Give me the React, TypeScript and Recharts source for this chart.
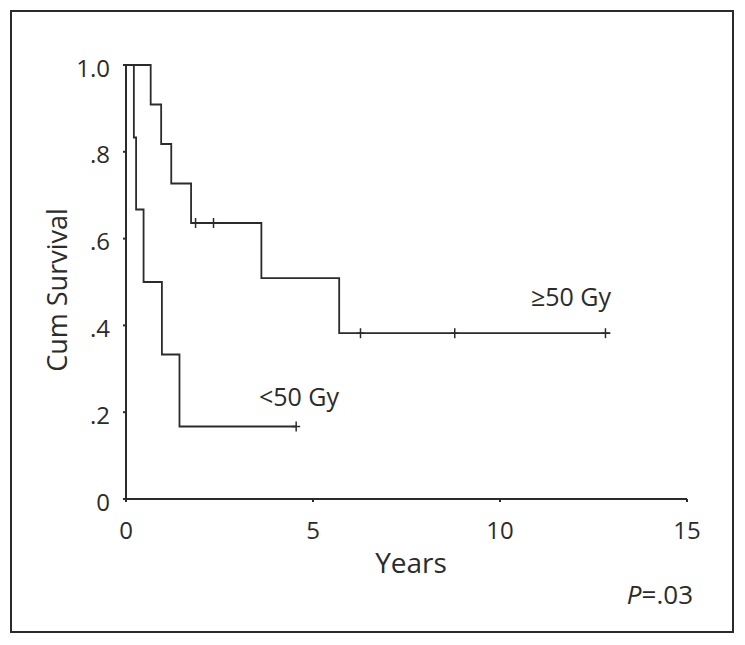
import React from "react";
import {
  ComposedChart,
  Line,
  Scatter,
  XAxis,
  YAxis,
} from "recharts";

// Kaplan-Meier step curves (time in years, cumulative survival)
const lowDoseCurve = [
  { t: 0, s: 1 },
  { t: 0.21, s: 0.833 },
  { t: 0.27, s: 0.667 },
  { t: 0.47, s: 0.5 },
  { t: 0.96, s: 0.333 },
  { t: 1.43, s: 0.167 },
  { t: 4.55, s: 0.167 },
];

const highDoseCurve = [
  { t: 0, s: 1 },
  { t: 0.66, s: 0.909 },
  { t: 0.94, s: 0.818 },
  { t: 1.21, s: 0.727 },
  { t: 1.74, s: 0.636 },
  { t: 3.62, s: 0.509 },
  { t: 5.7, s: 0.382 },
  { t: 12.95, s: 0.382 },
];

// censored observations
const lowDoseCensored = [{ t: 4.55, s: 0.167 }];
const highDoseCensored = [
  { t: 1.86, s: 0.636 },
  { t: 2.34, s: 0.636 },
  { t: 6.27, s: 0.382 },
  { t: 8.79, s: 0.382 },
  { t: 12.82, s: 0.382 },
];

const xTicks = [0, 5, 10, 15];
const yTicks = [0, 0.2, 0.4, 0.6, 0.8, 1];

const ink = "#2b2b2b";
const font = "'Open Sans', sans-serif";

const fmtY = (v: number) => (v === 1 ? "1.0" : v === 0 ? "0" : String(v).replace(/^0/, ""));

const CensorMark = (props: any) => {
  const { cx, cy } = props;
  if (cx == null || cy == null) return null;
  return (
    <g stroke={ink} strokeWidth={1.5}>
      <line x1={cx} y1={cy - 5} x2={cx} y2={cy + 5} />
      <line x1={cx - 4} y1={cy} x2={cx + 4} y2={cy} />
    </g>
  );
};

export default function App() {
  return (
    <div style={{ position: "absolute", left: 0, top: 0, width: 745, height: 645, background: "#fff" }}>
      <div
        style={{
          position: "absolute",
          left: 10,
          top: 10,
          width: 724,
          height: 623,
          boxSizing: "border-box",
          border: `2px solid ${ink}`,
        }}
      />
      <div style={{ position: "absolute", left: 0, top: 0 }}>
        <ComposedChart
          width={745}
          height={645}
          margin={{ top: 65, right: 58, left: 66, bottom: 116 }}
        >
          <XAxis
            type="number"
            dataKey="t"
            domain={[0, 15]}
            ticks={xTicks}
            allowDataOverflow
            stroke={ink}
            strokeWidth={2}
            tickSize={3}
            tickMargin={20}
            height={30}
            tick={{ fontSize: 24, fill: ink, fontFamily: font }}
          />
          <YAxis
            type="number"
            dataKey="s"
            domain={[0, 1]}
            ticks={yTicks}
            tickFormatter={fmtY}
            stroke={ink}
            strokeWidth={2}
            tickSize={3}
            tickMargin={13}
            width={60}
            tick={{ fontSize: 24, fill: ink, fontFamily: font, dy: 3 }}
          />
          <Line
            data={lowDoseCurve}
            dataKey="s"
            type="stepAfter"
            stroke={ink}
            strokeWidth={1.8}
            dot={false}
            isAnimationActive={false}
          />
          <Line
            data={highDoseCurve}
            dataKey="s"
            type="stepAfter"
            stroke={ink}
            strokeWidth={1.8}
            dot={false}
            isAnimationActive={false}
          />
          <Scatter data={lowDoseCensored} shape={CensorMark} isAnimationActive={false} />
          <Scatter data={highDoseCensored} shape={CensorMark} isAnimationActive={false} />
        </ComposedChart>
      </div>
      <svg
        width={745}
        height={645}
        style={{ position: "absolute", left: 0, top: 0, pointerEvents: "none" }}
        fontFamily={font}
        fill={ink}
      >
        <text x={66.5} y={290} fontSize={27} textAnchor="middle" transform="rotate(-90 66.5 290)">
          Cum Survival
        </text>
        <text x={411} y={573} fontSize={28} textAnchor="middle">
          Years
        </text>
        <text x={571} y={306} fontSize={25} textAnchor="middle">
          ≥50 Gy
        </text>
        <text x={299} y={405.5} fontSize={25} textAnchor="middle">
          &lt;50 Gy
        </text>
        <text x={693} y={604} fontSize={26} textAnchor="end">
          <tspan fontStyle="italic">P</tspan>=.03
        </text>
      </svg>
    </div>
  );
}
